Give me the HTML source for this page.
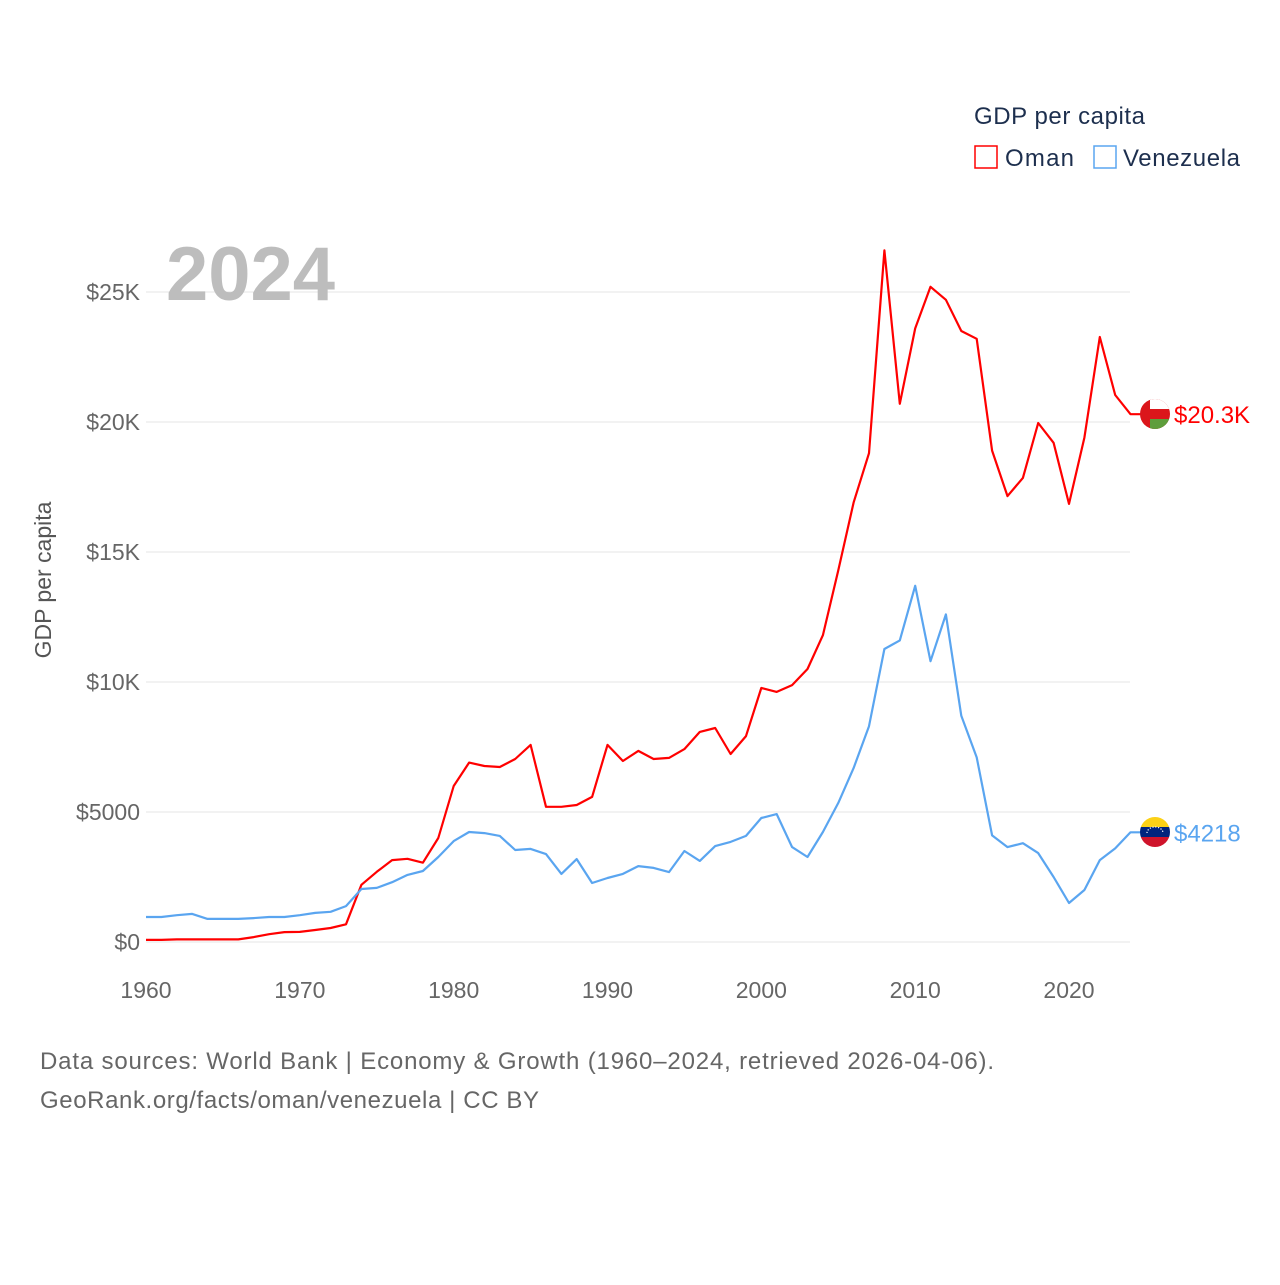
<!DOCTYPE html>
<html><head><meta charset="utf-8">
<style>
body{margin:0;background:#fff;font-family:"Liberation Sans",sans-serif;}
svg text{font-family:"Liberation Sans",sans-serif;}
</style></head>
<body>
<svg id="chart" width="1280" height="1280" xmlns="http://www.w3.org/2000/svg">
<defs>
<clipPath id="cOman"><circle cx="1155" cy="414" r="15"/></clipPath>
<clipPath id="cVen"><circle cx="1155" cy="832" r="15"/></clipPath>
</defs>
<rect width="1280" height="1280" fill="#fff"/>
<g id="grid"></g>
<text x="166" y="300" font-size="76" font-weight="bold" fill="#bdbdbd">2024</text>
<text transform="translate(51,580) rotate(-90)" text-anchor="middle" font-size="23" fill="#555">GDP per capita</text>
<g id="series"></g>
<g clip-path="url(#cOman)">
<rect x="1140" y="399" width="30" height="30" fill="#db161b"/>
<rect x="1150" y="399" width="20" height="10" fill="#ffffff"/>
<rect x="1150" y="419" width="20" height="10" fill="#5e9e3c"/>
</g>
<g clip-path="url(#cVen)">
<rect x="1140" y="817" width="30" height="10" fill="#fcd116"/>
<rect x="1140" y="827" width="30" height="10" fill="#00247d"/>
<rect x="1140" y="837" width="30" height="10" fill="#cf142b"/>
<path d="M1147,833 A8,6 0 0 1 1163,833" fill="none" stroke="#fff" stroke-width="1.2" stroke-dasharray="1.2 1.6"/>
</g>
<g>
<text x="974" y="124" font-size="24" fill="#1d2f4e" textLength="171">GDP per capita</text>
<g><rect x="975" y="146" width="22" height="22" fill="none" stroke="#ff0000" stroke-width="1.5"/><text x="1005" y="166" font-size="24" fill="#1d2f4e" textLength="69">Oman</text></g>
<g><rect x="1094" y="146" width="22" height="22" fill="none" stroke="#5aa5f0" stroke-width="1.5"/><text x="1123" y="166" font-size="24" fill="#1d2f4e" textLength="117">Venezuela</text></g>
</g>
<g>
<text x="40" y="1069" font-size="24" fill="#666" textLength="954">Data sources: World Bank | Economy &amp; Growth (1960–2024, retrieved 2026-04-06).</text>
<text x="40" y="1108" font-size="24" fill="#666" textLength="499">GeoRank.org/facts/oman/venezuela | CC BY</text>
</g>
</svg>
<script>
const years=[];for(let y=1960;y<=2024;y++)years.push(y);
const omanValues=[0.08,0.08,0.1,0.1,0.1,0.1,0.1,0.19,0.3,0.38,0.39,0.46,0.54,0.68,2.2,2.7,3.15,3.2,3.05,4.0,6.0,6.9,6.77,6.73,7.04,7.58,5.2,5.2,5.27,5.58,7.58,6.96,7.35,7.04,7.08,7.42,8.08,8.23,7.23,7.92,9.77,9.62,9.88,10.5,11.8,14.3,16.9,18.8,26.6,20.7,23.6,25.2,24.7,23.5,23.2,18.9,17.15,17.85,19.96,19.2,16.85,19.4,23.27,21.04,20.3];
const venezuelaValues=[0.96,0.96,1.03,1.08,0.89,0.89,0.89,0.92,0.96,0.96,1.03,1.12,1.16,1.38,2.04,2.08,2.3,2.58,2.73,3.27,3.88,4.23,4.19,4.08,3.54,3.58,3.38,2.62,3.19,2.27,2.46,2.62,2.92,2.85,2.69,3.5,3.12,3.69,3.85,4.08,4.77,4.92,3.65,3.27,4.23,5.35,6.69,8.3,11.27,11.6,13.7,10.8,12.6,8.7,7.1,4.1,3.65,3.8,3.42,2.5,1.5,2.0,3.15,3.6,4.218];
const yTicks=[0,5,10,15,20,25];
const yTickLabels=["$0","$5000","$10K","$15K","$20K","$25K"];
const xTicks=[1960,1970,1980,1990,2000,2010,2020];
const NS="http://www.w3.org/2000/svg";
const xs=y=>146+(y-1960)*(1069-146)/60;
const ys=v=>942-v*26;
function mk(t,a,p){const e=document.createElementNS(NS,t);for(const k in a)e.setAttribute(k,a[k]);p.appendChild(e);return e;}
const grid=document.getElementById('grid');
yTicks.forEach((v,i)=>{
 const l=mk('line',{x1:146,x2:1130,y1:ys(v),y2:ys(v),stroke:'#e6e6e6','stroke-width':1},grid);
 
 
 const t=mk('text',{x:140,y:ys(v)+8,'text-anchor':'end','font-size':23,fill:'#666'},grid);
 t.textContent=yTickLabels[i];
 
 
});
xTicks.forEach(y=>{
 const t=mk('text',{x:xs(y),y:998,'text-anchor':'middle','font-size':23,fill:'#666'},grid);
 t.textContent=y;
 
 
});
const S=document.getElementById('series');
function draw(vals,color,name,label){
 let d=vals.map((v,i)=>(i?'L':'M')+xs(years[i]).toFixed(1)+','+ys(v).toFixed(1)).join('');
 const last=vals[vals.length-1];
 d+='L'+(xs(2024)+10)+','+ys(last).toFixed(1);
 const p=mk('path',{d:d,fill:'none',stroke:color,'stroke-width':2.2,'stroke-linejoin':'round'},S);
 
 
 const t=mk('text',{x:1174,y:ys(last)+9,'font-size':24,fill:color},S);
 t.textContent=label;
 
 
}
draw(omanValues,'#ff0000','oman','$20.3K');
draw(venezuelaValues,'#5aa5f0','venezuela','$4218');
</script>
</body></html>
